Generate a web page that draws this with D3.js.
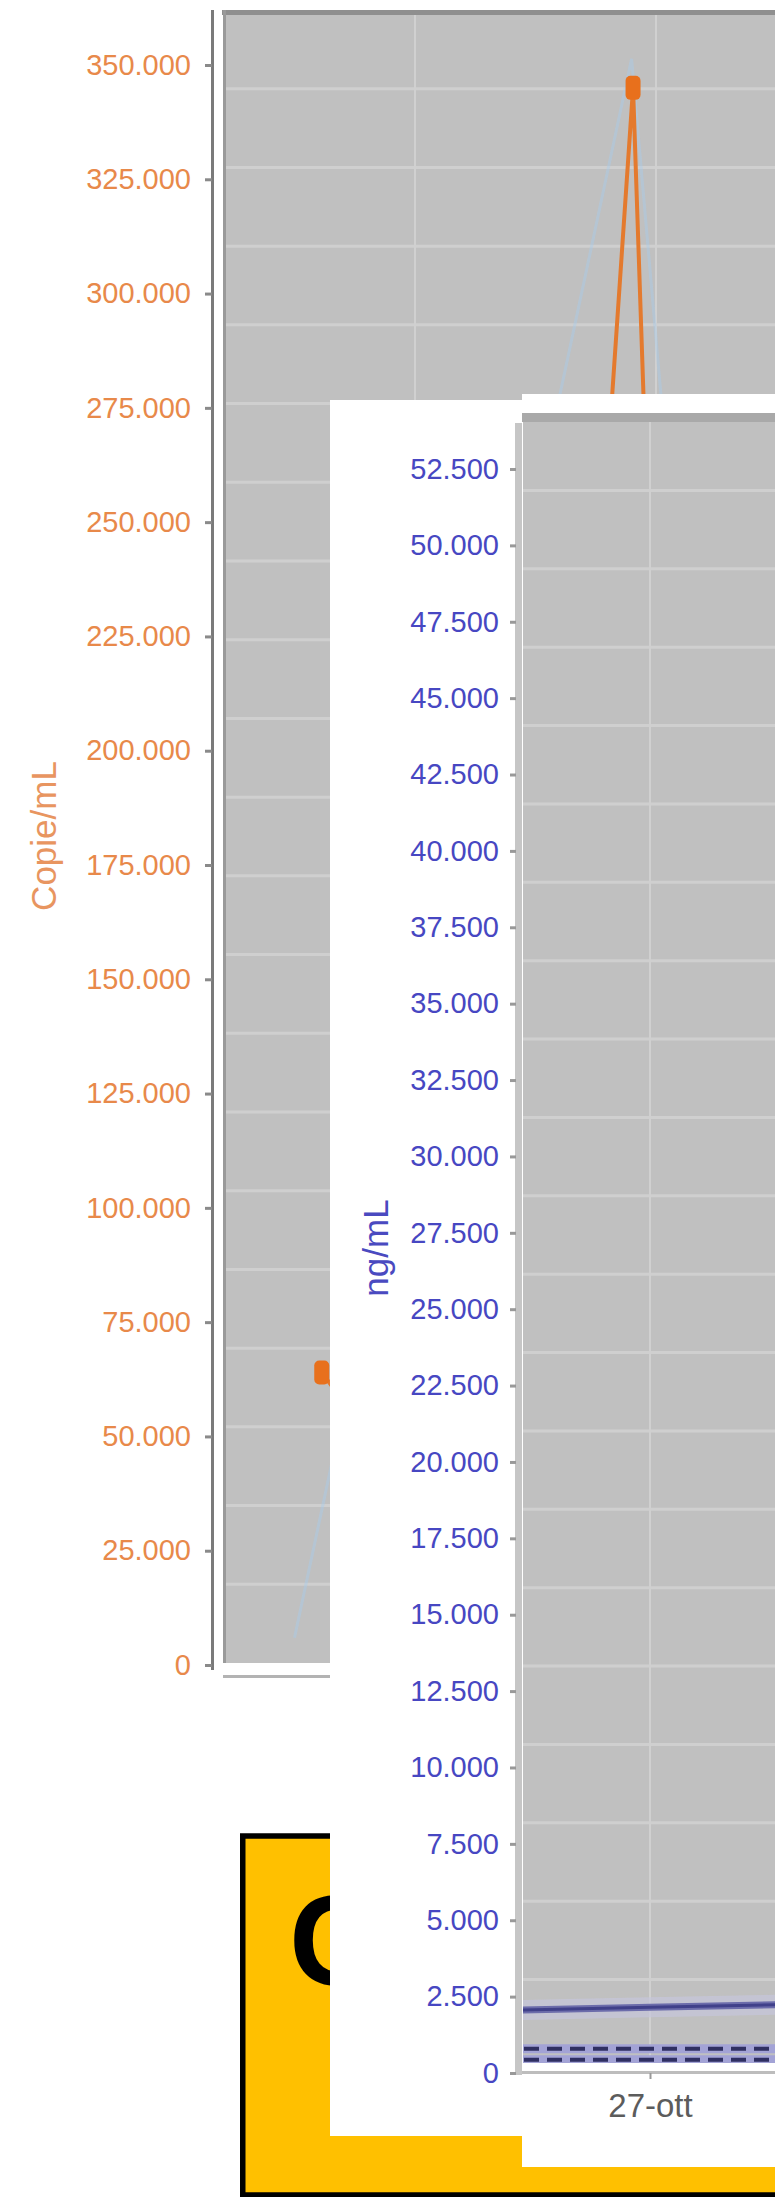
<!DOCTYPE html>
<html><head><meta charset="utf-8">
<script src="https://cdn.jsdelivr.net/npm/d3@7"></script>
<style>
html,body{margin:0;padding:0;background:#fff;}
svg{display:block;font-family:"Liberation Sans",Arial,sans-serif;}
</style>
</head><body>
<svg id="c" width="775" height="2197"></svg>
<script>
// ---------------- data ----------------
const copieTicks = [0,25000,50000,75000,100000,125000,150000,175000,200000,225000,250000,275000,300000,325000,350000];
const ngTicks = [0,2500,5000,7500,10000,12500,15000,17500,20000,22500,25000,27500,30000,32500,35000,37500,40000,42500,45000,47500,50000,52500];
const backTickDates = ["2020-10-20T00:00","2020-10-27T00:00","2020-11-03T00:00"];
const backDates = ["2020-10-17T07:00","2020-10-23T06:00","2020-10-26T08:00","2020-10-27T21:00"];
const backCopie = [64000, 3000, 345000, 3000];
const ghostDates = ["2020-10-16T12:00","2020-10-26T07:00","2020-10-30T07:00"];
const ghostNg = [800, 50950, 800];
const frontTickDates = ["2020-10-27T00:00"];
const frontTickLabels = ["27-ott"];
const frontDates = ["2020-10-20T00:00","2020-10-27T00:00","2020-11-03T00:00"];
const frontNg = [1990, 2150, 2305];
const refDates = ["2020-10-20T00:00","2020-11-03T00:00"];
const refHigh = [790, 790];
const refLow = [430, 430];
const backTitle = "Copie/mL";
const frontTitle = "ng/mL";
const boxText = "C";

// ---------------- helpers ----------------
const parse = d3.timeParse("%Y-%m-%dT%H:%M");
const it = d3.formatLocale({decimal:",", thousands:".", grouping:[3], currency:["€",""]});
const fmt = it.format(",d");
const svg = d3.select("#c");
const W = 775;

// ================= BACK CHART =================
const xBack = d3.scaleTime().domain([parse("2020-10-20T00:00"), parse("2020-10-27T00:00")]).range([415, 656]);
const yBackCopie = d3.scaleLinear().domain([0, 350000]).range([1665, 65]);
const yBackGrid = d3.scaleLinear().domain([0, 52500]).range([1663, 10]);
const bp = {x0:223, x1:W+40, y0:15, y1:1663};

const back = svg.append("g");
back.append("rect").attr("x", bp.x0).attr("y", bp.y0).attr("width", bp.x1-bp.x0).attr("height", bp.y1-bp.y0).attr("fill", "#c0c0c0");
back.append("clipPath").attr("id","clipBack").append("rect")
  .attr("x", bp.x0).attr("y", bp.y0).attr("width", bp.x1-bp.x0).attr("height", bp.y1-bp.y0);

// horizontal grid
back.append("g").selectAll("line").data(ngTicks.slice(1,-1)).join("line")
  .attr("x1", bp.x0).attr("x2", bp.x1)
  .attr("y1", d=>yBackGrid(d)).attr("y2", d=>yBackGrid(d))
  .attr("stroke", "#cfcfcf").attr("stroke-width", 3);
// vertical grid
back.append("g").attr("clip-path","url(#clipBack)").selectAll("line").data(backTickDates.map(parse)).join("line")
  .attr("x1", d=>xBack(d)).attr("x2", d=>xBack(d))
  .attr("y1", bp.y0).attr("y2", bp.y1)
  .attr("stroke", "#d0d0d0").attr("stroke-width", 2);
// minor hatch ticks along bottom
const hatch = back.append("g").attr("clip-path","url(#clipBack)")
  .attr("transform", `translate(0,${bp.y1})`)
  .call(d3.axisBottom(xBack).ticks(d3.timeHour.every(6)).tickSize(-26).tickFormat(""));
hatch.select(".domain").remove();
hatch.selectAll("line").attr("stroke", "#a6a6a6").attr("stroke-width", 2).attr("opacity", 0.7);

// borders
back.append("rect").attr("x", bp.x0-1).attr("y", 10).attr("width", bp.x1-bp.x0).attr("height", 5).attr("fill", "#8f8f8f");
back.append("rect").attr("x", bp.x0).attr("y", 10).attr("width", 3).attr("height", bp.y1-10).attr("fill", "#9a9a9a");
back.append("rect").attr("x", bp.x0).attr("y", 1675).attr("width", bp.x1-bp.x0).attr("height", 3).attr("fill", "#b3b3b3");

// left axis
back.append("rect").attr("x", 211).attr("y", 10).attr("width", 3).attr("height", 1660).attr("fill", "#7a7a7a");
const yAxB = back.append("g").attr("transform","translate(212,0)")
  .call(d3.axisLeft(yBackCopie).tickValues(copieTicks).tickFormat(fmt).tickSize(7).tickPadding(14));
yAxB.select(".domain").remove();
yAxB.selectAll("line").attr("stroke", "#8a8a8a").attr("stroke-width", 3);
yAxB.selectAll("text").attr("font-size", 29).attr("fill", "#e8894a")
  .attr("font-family", "'Liberation Sans', Arial, sans-serif");
back.append("text").attr("transform", "translate(56,836) rotate(-90)")
  .attr("text-anchor", "middle").attr("font-size", 35).attr("fill", "#e89560").text(backTitle);

// series
const bs = back.append("g").attr("clip-path","url(#clipBack)");
const ghost = ghostDates.map((d,i)=>({t:parse(d), v:ghostNg[i]}));
bs.append("path").datum(ghost)
  .attr("d", d3.line().x(d=>xBack(d.t)).y(d=>yBackGrid(d.v)))
  .attr("fill","none").attr("stroke","#a9cbea").attr("stroke-width",3).attr("opacity",0.45);
const bdata = backDates.map((d,i)=>({t:parse(d), v:backCopie[i]}));
bs.append("path").datum(bdata)
  .attr("d", d3.line().x(d=>xBack(d.t)).y(d=>yBackCopie(d.v)))
  .attr("fill","none").attr("stroke","#e47a2e").attr("stroke-width",4).attr("stroke-linejoin","round");
bs.selectAll("rect.m").data(bdata).join("rect").attr("class","m")
  .attr("x", d=>xBack(d.t)-7.5).attr("y", d=>yBackCopie(d.v)-12)
  .attr("width", 15).attr("height", 24).attr("rx", 5)
  .attr("fill", "#e8701c");

// ================= YELLOW BOX =================
const box = svg.append("g");
box.append("rect").attr("x", 242.75).attr("y", 1836).attr("width", 640).attr("height", 359)
  .attr("fill", "#ffc000").attr("stroke", "#000").attr("stroke-width", 5.5);
box.append("text").attr("x", 289).attr("y", 1985).attr("font-size", 128).attr("font-weight", "bold")
  .attr("fill", "#000").text(boxText);

// ================= FRONT CHART =================
const front = svg.append("g");
front.append("rect").attr("x", 330).attr("y", 400).attr("width", 200).attr("height", 1736).attr("fill", "#fff");
front.append("rect").attr("x", 522).attr("y", 394).attr("width", W-522+10).attr("height", 1773).attr("fill", "#fff");

const xFront = d3.scaleTime().domain([parse("2020-10-20T00:00"), parse("2020-10-27T00:00")]).range([409, 650]);
const yFront = d3.scaleLinear().domain([0, 52500]).range([2073, 469]);
const yFrontGrid = d3.scaleLinear().domain([0, 52500]).range([2058, 412]);
const fp = {x0:523, x1:W+40, y0:422, y1:2063};

front.append("rect").attr("x", fp.x0).attr("y", fp.y0).attr("width", fp.x1-fp.x0).attr("height", fp.y1-fp.y0).attr("fill", "#c0c0c0");
front.append("clipPath").attr("id","clipFront").append("rect")
  .attr("x", fp.x0).attr("y", fp.y0).attr("width", fp.x1-fp.x0).attr("height", fp.y1-fp.y0);
front.append("g").selectAll("line").data(ngTicks.slice(1,-1)).join("line")
  .attr("x1", fp.x0).attr("x2", fp.x1)
  .attr("y1", d=>yFrontGrid(d)).attr("y2", d=>yFrontGrid(d))
  .attr("stroke", "#cfcfcf").attr("stroke-width", 3);
front.append("g").attr("clip-path","url(#clipFront)").selectAll("line").data(frontTickDates.map(parse)).join("line")
  .attr("x1", d=>xFront(d)).attr("x2", d=>xFront(d))
  .attr("y1", fp.y0).attr("y2", fp.y1)
  .attr("stroke", "#d0d0d0").attr("stroke-width", 2);
// top border
front.append("rect").attr("x", 522).attr("y", 413).attr("width", fp.x1-522).attr("height", 9).attr("fill", "#a9a9a9");
// left axis bar
front.append("rect").attr("x", 515).attr("y", 423).attr("width", 7).attr("height", 1652).attr("fill", "#c6c6c6");
// bottom axis line
front.append("rect").attr("x", 522).attr("y", 2071).attr("width", fp.x1-522).attr("height", 3).attr("fill", "#bdbdbd");

const yAxF = front.append("g").attr("transform","translate(516,0)")
  .call(d3.axisLeft(yFront).tickValues(ngTicks).tickFormat(fmt).tickSize(6).tickPadding(11));
yAxF.select(".domain").remove();
yAxF.selectAll("line").attr("stroke", "#999").attr("stroke-width", 3);
yAxF.selectAll("text").attr("font-size", 29).attr("fill", "#4747c2")
  .attr("font-family", "'Liberation Sans', Arial, sans-serif");
front.append("text").attr("transform", "translate(388,1248) rotate(-90)")
  .attr("text-anchor", "middle").attr("font-size", 35).attr("fill", "#4a4ac0").text(frontTitle);

const xAxF = front.append("g").attr("transform","translate(0,2073)")
  .call(d3.axisBottom(xFront).tickValues(frontTickDates.map(parse)).tickFormat((d,i)=>frontTickLabels[i]).tickSize(6).tickPadding(15));
xAxF.select(".domain").remove();
xAxF.selectAll("line").attr("stroke", "#999").attr("stroke-width", 2);
xAxF.selectAll("text").attr("font-size", 33).attr("fill", "#5c5c5c")
  .attr("font-family", "'Liberation Sans', Arial, sans-serif");

// series
const fs = front.append("g").attr("clip-path","url(#clipFront)");
const lineF = d3.line().x(d=>xFront(d.t)).y(d=>yFront(d.v));
const fdata = frontDates.map((d,i)=>({t:parse(d), v:frontNg[i]}));
fs.append("path").datum(fdata).attr("d", lineF).attr("fill","none").attr("stroke","#c6c6dc").attr("stroke-width",20).attr("opacity",0.7);
fs.append("path").datum(fdata).attr("d", lineF).attr("fill","none").attr("stroke","#6c6cab").attr("stroke-width",7);
fs.append("path").datum(fdata).attr("d", lineF).attr("fill","none").attr("stroke","#40408a").attr("stroke-width",3);
[refHigh, refLow].forEach(vals=>{
  const dd = refDates.map((d,i)=>({t:parse(d), v:vals[i]}));
  fs.append("path").datum(dd).attr("d", lineF).attr("fill","none").attr("stroke","#a3a3d6").attr("stroke-width",9);
  fs.append("path").datum(dd).attr("d", lineF).attr("fill","none").attr("stroke","#2f2f62").attr("stroke-width",4)
    .attr("stroke-dasharray","15 8");
});
</script>
</body></html>
